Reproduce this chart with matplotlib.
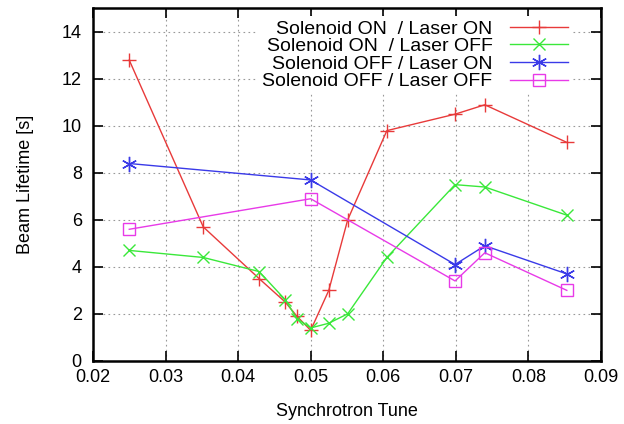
import matplotlib
matplotlib.use('Agg')
import matplotlib.pyplot as plt

plt.rcParams['font.family'] = ['Liberation Sans', 'DejaVu Sans']

# synchrotron tune values
tune_all = [0.025, 0.0352, 0.0429, 0.0465, 0.0481, 0.050, 0.0525, 0.0551, 0.0605, 0.0699, 0.074, 0.0853]
tune_off = [0.025, 0.050, 0.0699, 0.074, 0.0853]

# beam lifetime [s]
on_on = [12.8, 5.7, 3.5, 2.5, 1.9, 1.3, 3.0, 6.0, 9.8, 10.5, 10.9, 9.3]
on_off = [4.7, 4.4, 3.8, 2.6, 1.8, 1.4, 1.6, 2.0, 4.4, 7.5, 7.4, 6.2]
off_on = [8.4, 7.7, 4.1, 4.9, 3.7]
off_off = [5.6, 6.9, 3.4, 4.6, 3.0]

labels = ['Solenoid ON  / Laser ON', 'Solenoid ON  / Laser OFF',
          'Solenoid OFF / Laser ON', 'Solenoid OFF / Laser OFF']

fig = plt.figure(figsize=(6.24, 4.24), dpi=100)
ax = fig.add_axes([0.149, 0.149, 0.814, 0.831])

ax.plot(tune_all, on_on, color='#e83a3a', lw=1, marker='+', ms=10, mew=1, label=labels[0])
ax.plot(tune_all, on_off, color='#3ae83a', lw=1, marker='x', ms=9, mew=1, label=labels[1])
ax.plot(tune_off, off_on, color='#3a3ae8', lw=1, marker=(6, 2, 0), ms=11, mew=1, label=labels[2])
ax.plot(tune_off, off_off, color='#e83ae8', lw=1, marker='s', ms=9, mew=1,
        mfc='none', label=labels[3])

ax.set_xlim(0.02, 0.09)
ax.set_ylim(0, 15)
ax.set_xticks([0.02, 0.03, 0.04, 0.05, 0.06, 0.07, 0.08, 0.09])
ax.set_yticks([0, 2, 4, 6, 8, 10, 12, 14])
ax.set_xticklabels(['0.02', '0.03', '0.04', '0.05', '0.06', '0.07', '0.08', '0.09'])
ax.tick_params(direction='in', top=True, right=True, length=7, width=1.2,
               labelsize=13)
ax.tick_params(axis='x', pad=6)
ax.tick_params(axis='y', pad=8)
ax.grid(True, color='#999999', ls=(0, (1.5, 3)), lw=0.8)
ax.set_axisbelow(True)
for s in ax.spines.values():
    s.set_linewidth(1.8)

ax.set_xlabel('Synchrotron Tune', fontsize=13, labelpad=12)
ax.set_ylabel('Beam Lifetime [s]', fontsize=13, labelpad=20)

leg = ax.legend(loc='upper right', bbox_to_anchor=(0.955, 0.995), markerfirst=False,
                fontsize=14, handlelength=3.0, handletextpad=0.9, labelspacing=0.0,
                borderpad=0.2, frameon=True, fancybox=False, framealpha=1,
                edgecolor='none', facecolor='white', borderaxespad=0.3)

fig.savefig('out.png', dpi=100)
